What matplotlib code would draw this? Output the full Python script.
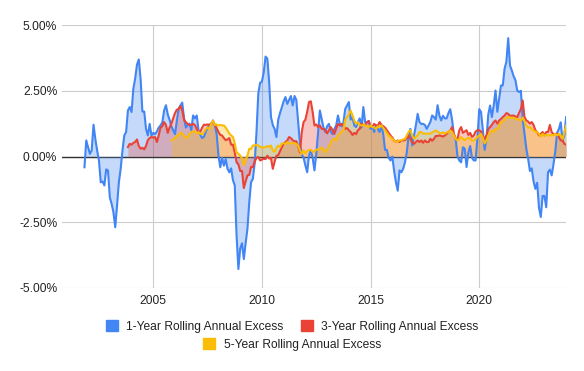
import matplotlib
matplotlib.use("Agg")
import matplotlib.pyplot as plt
from matplotlib.patches import Patch
import numpy as np

plt.rcParams['font.family'] = ['Liberation Sans', 'DejaVu Sans']

# ---------------- data ----------------
series_names = ["1-Year Rolling Annual Excess",
                "3-Year Rolling Annual Excess",
                "5-Year Rolling Annual Excess"]
series_colors = ["#4285F4", "#EA4335", "#FBBC04"]

# first month of each monthly series (year, month)
start_1y = (2001, 11)
start_3y = (2003, 11)
start_5y = (2005, 11)

# monthly rolling excess returns, in percent
one_year = [
    -0.41, 0.61, 0.36, 0.10, 0.23, 1.21, 0.67, 0.23, -0.15, -0.98, -0.95, -1.10,
    -0.49, -0.53, -1.55, -1.80, -2.12, -2.69, -1.87, -0.98, -0.47, 0.23, 0.80, 0.93,
    1.75, 1.88, 1.69, 2.58, 2.96, 3.49, 3.69, 2.96, 1.71, 1.71, 1.05, 0.80, 1.24,
    0.80, 0.90, 0.85, 0.95, 1.10, 1.18, 1.30, 1.75, 1.95, 1.60, 1.40, 1.15, 1.00,
    0.85, 1.35, 1.81, 1.94, 2.05, 1.45, 1.10, 1.20, 1.25, 1.00, 1.56, 1.45, 1.56,
    1.00, 0.82, 0.70, 0.75, 0.95, 1.10, 1.20, 1.25, 1.37, 1.18, 0.85, 0.05, -0.41,
    -0.05, -0.35, -0.10, -0.47, -0.60, -0.45, -0.90, -1.10, -3.00, -4.28, -3.50, -3.30,
    -3.90, -3.30, -2.75, -1.75, -0.98, -0.85, -0.25, 0.93, 2.40, 2.80, 2.85, 3.20,
    3.80, 3.72, 2.83, 1.50, 1.20, 1.05, 0.74, 1.40, 1.65, 1.88, 2.10, 2.26, 2.00, 2.15,
    2.30, 1.94, 2.30, 2.15, 1.31, 0.50, 0.10, -0.05, -0.34, -0.60, 0.04, 0.23,
    -0.05, -0.53, 0.10, 0.90, 1.75, 1.43, 1.10, 0.93, 1.15, 1.24, 0.95, 0.85,
    1.05, 1.18, 1.56, 1.25, 1.15, 1.30, 1.81, 1.94, 2.07, 1.40, 1.50, 1.18, 1.12, 1.31,
    1.45, 1.10, 1.88, 1.31, 1.30, 1.35, 1.05, 1.15, 0.93, 1.18, 1.05, 0.93, 1.18,
    0.85, 0.25, 0.25, -0.05, -0.15, 0.00, -0.55, -0.98, -1.30, -0.53, -0.60, -0.47,
    -0.22, 0.16, 0.80, 1.05, 0.42, 0.80, 1.18, 1.62, 1.31, 1.24, 1.24, 1.20, 1.05, 1.18,
    1.31, 1.56, 1.50, 1.40, 1.95, 1.56, 1.37, 1.55, 1.45, 1.45, 1.65, 1.80, 1.40,
    0.85, 0.67, 0.00, -0.15, -0.22, 0.35, 0.30, -0.40, 0.16, 0.40, -0.05, -0.15,
    -0.15, 0.70, 1.80, 1.69, 1.00, 0.25, 0.67, 1.60, 1.94, 1.50, 1.94, 2.51, 1.70,
    2.20, 2.70,
    2.70, 3.34, 3.60, 4.50, 3.46, 3.27, 3.05, 2.90, 2.51, 2.45, 2.50, 1.43, 0.85,
    0.30, -0.09, -0.55, -0.45, -0.95, -1.23, -1.00, -1.95, -2.30, -1.50, -1.50, -1.93,
    -0.60, -0.50, -0.72, -0.30, 0.20, 0.90, 1.05, 1.30, 0.60, 0.80, 1.50,
]

three_year = [
    0.36, 0.48, 0.45, 0.52, 0.55, 0.65, 0.40, 0.30, 0.33, 0.27, 0.40, 0.62, 0.70,
    0.74, 0.72, 0.74, 0.55, 0.80, 1.10, 1.15, 1.31, 1.20, 0.90, 1.10, 1.25, 1.45,
    1.65, 1.78, 1.80, 1.92, 1.75, 1.40, 1.30, 1.24, 1.20, 1.20, 1.24, 1.20, 1.05,
    0.93, 0.95, 1.10, 1.21, 1.20, 1.22, 1.20, 1.25, 1.31, 1.20, 1.08, 0.93,
    0.82, 0.80, 0.70, 0.62, 0.65, 0.70, 0.45, 0.45, 0.15, -0.22, -0.30, -0.55, -0.55,
    -1.20, -0.95, -0.72, -0.70, -0.40, -0.40, -0.20, -0.05, -0.02, -0.15, -0.12, -0.08,
    -0.10, 0.03, -0.08, -0.05, -0.47, -0.20, 0.03, 0.05, 0.20, 0.35, 0.48, 0.55, 0.61, 0.74,
    0.70, 0.62, 0.58, 0.58, 0.40, 0.15, 0.93, 1.31, 1.40, 1.70, 2.07, 2.10, 1.70,
    1.18, 1.22, 1.12, 1.18, 1.05, 1.05, 1.00, 0.88, 1.00, 1.12, 1.00, 0.86, 1.05,
    1.24, 1.18, 1.24, 1.18, 1.05, 1.08, 1.00, 0.93, 0.82, 0.90, 0.85, 1.00,
    1.05, 1.25, 1.20, 1.20, 1.30, 1.35, 1.15, 1.12, 1.24, 1.18, 1.18, 1.31, 1.20,
    1.15, 1.10, 1.00, 0.90, 0.80, 0.72, 0.61, 0.55, 0.61, 0.55, 0.61, 0.61, 0.62,
    0.70, 0.80, 0.67, 0.55, 0.48, 0.55, 0.61, 0.55, 0.61, 0.52, 0.61, 0.55, 0.55,
    0.67, 0.60, 0.67, 0.78, 0.78, 0.80, 0.78, 0.76, 0.80, 0.86, 0.93, 0.99, 1.12,
    0.85, 0.67, 0.67, 1.00, 1.12, 0.90, 0.95, 1.00, 0.82, 0.90, 0.74, 0.80, 0.95,
    1.00, 1.00, 0.95, 0.75, 0.67, 0.80, 1.05, 1.12, 1.20, 1.31, 1.37, 1.25, 1.37, 1.43,
    1.50, 1.56, 1.65, 1.62, 1.55, 1.55, 1.56, 1.52, 1.50, 1.65, 1.81, 2.13, 1.50,
    1.37, 1.33, 1.25, 1.31, 1.20, 1.00, 0.93, 0.80, 0.86, 0.93, 0.80, 0.93, 0.93,
    1.20, 0.93, 0.85, 0.86, 0.86, 0.74, 0.61, 0.61, 0.48, 0.45,
]

five_year = [
    0.61, 0.65, 0.70, 0.78, 0.80, 0.90, 0.88, 0.78, 0.70, 0.75, 0.85, 0.93, 0.95,
    0.95, 0.88, 0.93, 0.86, 0.85, 0.93, 1.05, 1.10, 1.05, 1.24, 1.37, 1.20, 1.22, 1.18,
    1.20, 1.18, 1.18, 1.10, 0.99, 0.87, 0.80, 0.74, 0.50, 0.16, 0.10, 0.04, -0.09,
    -0.34, -0.15, 0.04, 0.29, 0.29, 0.42, 0.42, 0.44, 0.42, 0.36, 0.36, 0.33, 0.36,
    0.40, 0.36, 0.42, 0.23, 0.18, 0.33, 0.42, 0.36, 0.50, 0.50, 0.48, 0.55, 0.50,
    0.50, 0.52, 0.50, 0.48, 0.42, 0.23, 0.10, 0.23, 0.12, 0.20, 0.25, 0.25, 0.18,
    0.20, 0.25, 0.28, 0.27, 0.35, 0.25, 0.16, 0.25, 0.38, 0.52, 0.65, 0.67, 0.61,
    0.80, 0.86, 0.93, 0.99, 1.40, 1.50, 1.60, 1.75, 1.56, 1.37, 1.24, 1.31,
    1.20, 1.18, 1.20, 1.18, 1.15, 1.12, 1.18, 1.12, 1.10, 1.05, 1.15, 1.12, 1.18,
    1.08, 1.00, 0.90, 0.80, 0.74, 0.67, 0.61, 0.55, 0.58, 0.61, 0.61, 0.65, 0.67,
    0.80, 0.93, 1.00, 0.80, 0.67, 0.74, 0.80, 0.93, 0.93, 0.87, 0.87, 0.87, 0.87,
    0.87, 0.92, 0.95, 0.99, 0.95, 0.90, 0.88, 0.92, 0.87, 0.92, 0.92, 0.99, 0.93,
    0.80, 0.67, 0.61, 0.67, 0.74, 0.67, 0.62, 0.67, 0.72, 0.67, 0.61, 0.61, 0.67,
    0.74, 0.80, 0.86, 0.70, 0.50, 0.60, 0.80, 0.93, 0.99, 0.93, 1.05, 1.05, 1.18, 1.31,
    1.33, 1.40, 1.48, 1.50, 1.48, 1.47, 1.47, 1.44, 1.42, 1.40, 1.37, 1.48, 1.33,
    1.18, 1.10, 1.12, 1.05, 0.99, 0.95, 0.93, 0.86, 0.75, 0.86, 0.80, 0.82, 0.80,
    0.82, 0.80, 0.82, 0.86, 0.80, 0.86, 0.80, 0.67, 0.90, 1.18,
]

y_ticks = [-5.0, -2.5, 0.0, 2.5, 5.0]
y_tick_labels = ["-5.00%", "-2.50%", "0.00%", "2.50%", "5.00%"]
x_ticks = [2005, 2010, 2015, 2020]
x_tick_labels = ["2005", "2010", "2015", "2020"]


def month_axis(start, n):
    year, month = start
    return year + (month - 1) / 12.0 + np.arange(n) / 12.0


# ---------------- figure ----------------
W, H = 584, 371
fig = plt.figure(figsize=(W / 100, H / 100), dpi=100)
L, R, T, B = 62, 565.5, 25, 288
ax = fig.add_axes([L / W, 1 - B / H, (R - L) / W, (B - T) / H])

all_series = [(start_1y, one_year), (start_3y, three_year), (start_5y, five_year)]

ax.axhline(0, color="#333333", lw=1.0, zorder=1)

for (start, vals), col in zip(all_series, series_colors):
    t = month_axis(start, len(vals))
    v = np.array(vals)
    ax.fill_between(t, 0, v, color=col, alpha=0.3, lw=0, zorder=2)

for (start, vals), col in zip(all_series, series_colors):
    t = month_axis(start, len(vals))
    ax.plot(t, vals, color=col, lw=1.5, zorder=3, solid_joinstyle="round")

ax.set_xlim(2000.80, 2023.97)
ax.set_ylim(-5, 5)

ax.set_yticks(y_ticks)
ax.set_yticklabels(y_tick_labels)
ax.set_xticks(x_ticks)
ax.set_xticklabels(x_tick_labels)
ax.tick_params(axis="both", length=0, labelsize=8.64, colors="#444444")
ax.tick_params(axis="y", pad=3.5)
ax.tick_params(axis="x", pad=5)
for lab in ax.get_xticklabels() + ax.get_yticklabels():
    lab.set_color("#222222")

ax.grid(True, color="#cccccc", lw=0.8, zorder=0)
ax.set_axisbelow(True)
for s in ax.spines.values():
    s.set_visible(False)

# legend: two rows, centred
handles = [Patch(facecolor=c, edgecolor=c) for c in series_colors]
leg_kw = dict(frameon=False, fontsize=8.64, handlelength=1.0, handleheight=1.0,
              handletextpad=0.7, columnspacing=1.45, borderpad=0, borderaxespad=0,
              labelcolor="#222222")
leg1 = fig.legend(handles[:2], series_names[:2], ncol=2, loc="center",
                  bbox_to_anchor=(292 / W, 1 - 326.7 / H), **leg_kw)
leg2 = fig.legend(handles[2:], series_names[2:], ncol=1, loc="center",
                  bbox_to_anchor=(292 / W, 1 - 344.5 / H), **leg_kw)

fig.savefig("out.png", dpi=100, facecolor="white")
